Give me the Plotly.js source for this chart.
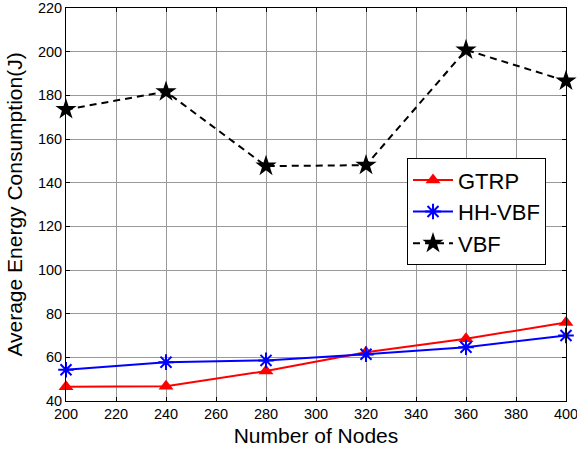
<!DOCTYPE html>
<html><head><meta charset="utf-8">
<script src="https://cdn.plot.ly/plotly-3.0.1.min.js"></script>
<style>html,body{margin:0;padding:0;background:#fff}#c{width:577px;height:451px}</style>
</head><body><div id="c"></div>
<script>
var nodes = [200, 240, 280, 320, 360, 400];
var gtrp = [46.5, 46.8, 53.7, 62.3, 68.5, 76];
var hhvbf = [54.3, 57.8, 58.6, 61.4, 64.6, 70];
var vbf = [173.5, 181.7, 147.6, 148, 200.8, 186.6];
var xTicks = [200,220,240,260,280,300,320,340,360,380,400];
var yTicks = [40,60,80,100,120,140,160,180,200,220];

var traces = [
  {x: nodes, y: gtrp, name: 'GTRP', mode: 'lines+markers', cliponaxis: false,
   line: {color: '#ff0000', width: 2},
   marker: {symbol: 'triangle-up', size: 13, color: '#ff0000'}},
  {x: nodes, y: hhvbf, name: 'HH-VBF', mode: 'lines+markers', cliponaxis: false,
   line: {color: '#0000ff', width: 2},
   marker: {symbol: 'asterisk-open', size: 13, color: '#0000ff', line: {color: '#0000ff', width: 2}}},
  {x: nodes, y: vbf, name: 'VBF', mode: 'lines+markers', cliponaxis: false,
   line: {color: '#000000', width: 2, dash: '7px,5px'},
   marker: {symbol: 'star', size: 16, color: '#000000'}}
];

var fam = 'Arial, Liberation Sans, sans-serif';
var axisFont = {family: fam, size: 14.5, color: '#000'};
var layout = {
  width: 577, height: 451,
  margin: {l: 66, r: 11, t: 8, b: 50},
  paper_bgcolor: '#fff', plot_bgcolor: '#fff',
  font: {family: fam, color: '#000'},
  xaxis: {range: [200, 400], tickvals: xTicks, ticktext: xTicks.map(String),
    showgrid: true, gridcolor: '#999999', gridwidth: 1,
    showline: true, linecolor: '#000', linewidth: 1, mirror: 'ticks',
    ticks: 'inside', ticklen: 4, tickcolor: '#000', zeroline: false,
    tickfont: axisFont, ticklabeloverflow: 'allow',
    title: {text: 'Number of Nodes', font: {family: fam, size: 21, color: '#000'}, standoff: 6}},
  yaxis: {range: [40, 220], tickvals: yTicks, ticktext: yTicks.map(String),
    showgrid: true, gridcolor: '#999999', gridwidth: 1,
    showline: true, linecolor: '#000', linewidth: 1, mirror: 'ticks',
    ticks: 'inside', ticklen: 4, tickcolor: '#000', zeroline: false,
    tickfont: axisFont, ticklabeloverflow: 'allow',
    title: {text: 'Average Energy Consumption(J)', font: {family: fam, size: 21, color: '#000'}, standoff: 9}},
  legend: {x: 0.682, y: 0.618, xanchor: 'left', yanchor: 'top',
    bgcolor: '#fff', bordercolor: '#000', borderwidth: 1,
    font: {family: fam, size: 22, color: '#000'},
    tracegroupgap: 0, itemwidth: 40},
  showlegend: true
};
Plotly.newPlot('c', traces, layout, {displayModeBar: false, staticPlot: true});
</script></body></html>
